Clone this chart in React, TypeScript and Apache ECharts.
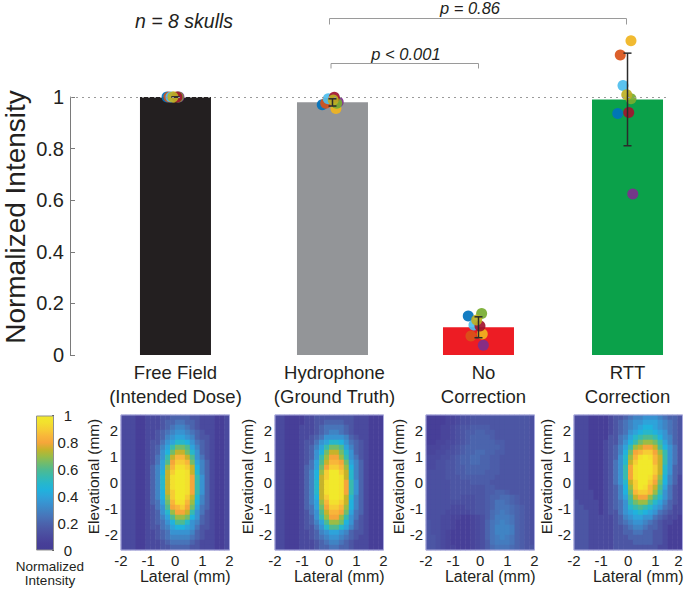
import React, { useEffect, useRef } from "react";
import * as echarts from "echarts";

const FONT = '"Liberation Sans", Arial, sans-serif';
const INK = "#231f20";

// ---- main bar chart data ----
const categories = ["Free Field\n(Intended Dose)", "Hydrophone\n(Ground Truth)", "No\nCorrection", "RTT\nCorrection"];
const barPositions = [1, 2.042, 3.011, 4];
const barValues = [1, 0.98, 0.108, 0.99];
const barColors = ["#231f20", "#939598", "#ed1c24", "#0ba14a"];
const errorLow = [1, 0.965, 0.067, 0.811];
const errorHigh = [1, 0.993, 0.148, 1.17];

const skullColors = ["#0072bd", "#d95319", "#f0b41f", "#7e2f8e", "#77ac30", "#4dbeee", "#a2142f", "#bdb024"];
// intensity of each skull in the four conditions
const skullIntensity = [
  [1, 0.97, 0.151, 0.936],
  [1, 0.976, 0.074, 1.163],
  [1, 0.955, 0.081, 1.218],
  [1, 0.981, 0.038, 0.624],
  [1, 0.976, 0.161, 0.993],
  [1, 0.993, 0.116, 1.045],
  [1, 0.999, 0.112, 0.94],
  [1, 0.988, 0.136, 1.009],
];
// horizontal jitter of each skull in the four conditions
const skullJitter = [
  [-0.056, -0.068, -0.068, -0.065],
  [-0.043, -0.045, -0.05, -0.048],
  [-0.01, 0.023, 0.025, 0.023],
  [0.023, 0.038, 0.032, 0.035],
  [0.017, 0.028, 0.021, 0.023],
  [-0.03, -0.028, -0.03, -0.03],
  [0.01, 0.012, 0.01, 0.008],
  [-0.017, 0.005, -0.012, -0.005],
];
const yTicks = ["0", "0.2", "0.4", "0.6", "0.8", "1"];

// ---- colour scale, 0 to 1 in steps of 0.05 ----
const colorScale = [
  "#443d95", "#473f98", "#4a4a9e", "#4c56a4", "#4b64ad", "#4874b9", "#4084c4", "#3893d1", "#2ea3da", "#20b2dd",
  "#27b7cb", "#38baae", "#4fba90", "#72bc6b", "#9bbc45", "#c6b32b", "#f5a63a", "#f8b63a", "#f6cd34", "#f3e02e", "#f1e92b",
];

// ---- beam maps: one character per cell, base-21 level, top row first ----
const mapFreeField = [
  "2221122233444433222112",
  "2221122234455443222112",
  "2221122234566543222112",
  "2221122345677654322112",
  "2221122346788764332112",
  "22211233578aa975432112",
  "2221123468bddc86432112",
  "2221123479dffda7432112",
  "222112357bfhhfc7532112",
  "222112358cgiihd8642112",
  "222112468ehjjif9642112",
  "222112469fikkjfa642112",
  "22211246afjkkjgb742112",
  "22211246afjkkjgb742112",
  "22211246afjkkjgb742112",
  "222112469fikkjgb742112",
  "222112469eikkifa642112",
  "222112458dhjjhe9642112",
  "222112357cghigd8542112",
  "222112347aeggfb7532112",
  "2221123468ceed97432112",
  "22211234579cca76432112",
  "2221123356899875332112",
  "2221122345777764322112",
  "2221122345666654322112",
  "2221122234555543222112",
  "2221122233444433222112",
];
const mapHydrophone = [
  "2211112233333333222111",
  "2211112233444433222111",
  "2211122234555543222111",
  "2211122234566543222111",
  "2211122345777764322111",
  "22111233578aa975432111",
  "2211123468bddc86432111",
  "2211123479dffda7432111",
  "221112347beggeb7532111",
  "221112358cfhhgd8642111",
  "221112458dgiihe9642111",
  "221112469eikkifa642111",
  "221112469fikkjfa642111",
  "22111246afjkkjgb742111",
  "22111246afjkkjgb742111",
  "22111246afjkkjgb742111",
  "221112469fikkjfa642111",
  "221112468ehjjif9642111",
  "221112458dgiihe9642111",
  "221112357cfhhgd8542111",
  "221112347beggeb7532111",
  "2211123468ceed97432111",
  "2211123357acca86432111",
  "2211122346788764332111",
  "2211122345677654322111",
  "2211122234566543222111",
  "2211122234455443222111",
];
const mapNoCorrection = [
  "2222334556666666666665",
  "2222334556666666666665",
  "2223345667777666666665",
  "2223345677887766666665",
  "2223345678888766666665",
  "2233445678888877666665",
  "3334456788888887666665",
  "3344556788998877666665",
  "4445567889988776666665",
  "4455667889988776666665",
  "4455667788888776666665",
  "5555667788887776666665",
  "5555666777777766666665",
  "5555566667777666666665",
  "5555566666667766666665",
  "5555566666667788766665",
  "5555566555667889987665",
  "55555555556678aa987665",
  "55555444556678aaa98765",
  "55554444456679aba98765",
  "55544332234579bbba8765",
  "6554432223458abcba8765",
  "6554432223458acccb8765",
  "6554322223458acccb8765",
  "6654322223458abcba8765",
  "6654322223457abbba8765",
  "66543322234579aaa98766",
];
const mapRtt = [
  "2221111233456677765443",
  "2221111234567788876543",
  "2221111234567899876543",
  "22211112345789aa987543",
  "222111133568abccb97643",
  "222111233579bdeedb8643",
  "22211123468befggfc9753",
  "22211123469dghiigeb753",
  "2221112347aehjkjhfb753",
  "2221112357afikkkhfb753",
  "2221112357bgjkkkifa743",
  "2221112357bgjkkkifa743",
  "2221112357bgjkkjhe9642",
  "2221112357afikkigd9642",
  "22211123469eikjhfc8532",
  "22221123469dhiiheb7532",
  "22221123468cfggeca7532",
  "32222123457bdeeca86432",
  "33222123457abcba875422",
  "3332212335789a98754322",
  "3332222234678877543221",
  "3332222234567765432211",
  "3332222233456654432111",
  "3332222233445544332111",
  "3332222233344444332111",
  "3332222233334444332111",
  "3332222233333333322111",
];
const beamMaps = [mapFreeField, mapHydrophone, mapNoCorrection, mapRtt];
// levels per 1.0 in each map (the uncorrected map is stored at finer steps)
const beamLevels = [20, 20, 40, 20];
const lateralTicksMin = -2;
const lateralTicksMax = 2;
const elevationalLimit = 2.58;
const colorbarTicks = [0, 0.2, 0.4, 0.6, 0.8, 1];

const heatLeft = [121, 275, 426, 574];

function toCells(rows: string[], levels: number) {
  const cells: number[][] = [];
  rows.forEach((row, r) => {
    row.split("").forEach((ch, c) => {
      cells.push([c, r, parseInt(ch, 21) / levels]);
    });
  });
  return cells;
}

function buildOption(): any {
  const grid: any[] = [
    { left: 70, top: 97, width: 600, height: 258, outerBoundsMode: "none" },
    { left: 36, top: 415.5, width: 18, height: 135, outerBoundsMode: "none" },
  ];
  const xAxis: any[] = [
    { type: "value", gridIndex: 0, min: 0.3, max: 4.282, show: false },
    { type: "category", gridIndex: 1, data: ["scale"], show: false },
  ];
  const yAxis: any[] = [
    {
      type: "value",
      gridIndex: 0,
      min: 0,
      max: 1,
      interval: 0.2,
      name: "Normalized Intensity",
      nameLocation: "middle",
      nameGap: 41,
      nameMoveOverlap: false,
      nameTextStyle: { fontSize: 28, color: INK, padding: [0, 0, 0, 18] },
      axisLine: { show: true, lineStyle: { color: "#7a7a7a", width: 1 } },
      axisTick: { show: true, inside: true, length: 5, lineStyle: { color: "#7a7a7a" } },
      axisLabel: {
        fontSize: 20,
        color: INK,
        margin: 6,
        formatter: (v: number) => yTicks[Math.round(v * 5)],
      },
      splitLine: { show: false },
    },
    {
      type: "value",
      gridIndex: 1,
      position: "right",
      min: colorbarTicks[0],
      max: colorbarTicks[5],
      interval: 0.2,
      axisLine: { show: false },
      axisTick: { show: true, inside: true, length: 2, lineStyle: { color: "#555" } },
      axisLabel: { fontSize: 15, color: INK, align: "center", margin: 14 },
      splitLine: { show: false },
    },
  ];

  const series: any[] = [];

  // bars with the dotted reference line and the category texts
  series.push({
    type: "bar",
    name: "Mean",
    xAxisIndex: 0,
    yAxisIndex: 0,
    barWidth: 71,
    clip: false,
    z: 2,
    data: barPositions.map((p, i) => ({
      value: [p, barValues[i]],
      itemStyle: { color: barColors[i] },
      label: {
        show: true,
        position: "insideBottom",
        distance: 0,
        offset: [[0, 2, 5, 0][i], 53],
        formatter: () => categories[i],
        fontSize: 18.5,
        lineHeight: 24,
        color: INK,
        fontFamily: FONT,
      },
    })),
    markLine: {
      silent: true,
      symbol: "none",
      label: { show: false },
      lineStyle: { type: [2, 4], color: "#9a9a9a", width: 1 },
      data: [{ yAxis: 1 }],
    },
  });

  // colour bar
  series.push({
    type: "bar",
    name: "Colour scale",
    xAxisIndex: 1,
    yAxisIndex: 1,
    barWidth: "100%",
    data: [1],
    itemStyle: {
      borderColor: "#8f8f8f",
      borderWidth: 1,
      color: new echarts.graphic.LinearGradient(
        0,
        1,
        0,
        0,
        colorScale.map((color, i) => ({ offset: i / (colorScale.length - 1), color }))
      ),
    },
  });

  // one scatter series per skull
  skullIntensity.forEach((vals, s) => {
    series.push({
      type: "scatter",
      name: `Skull ${s + 1}`,
      xAxisIndex: 0,
      yAxisIndex: 0,
      clip: false,
      symbolSize: 11,
      z: 3,
      itemStyle: { color: skullColors[s], opacity: 0.92 },
      data: vals.map((v, g) => [barPositions[g] + skullJitter[s][g], v]),
    });
  });

  // error bars
  series.push({
    type: "custom",
    name: "Std",
    xAxisIndex: 0,
    yAxisIndex: 0,
    clip: false,
    z: 4,
    data: barPositions.map((p, i) => [p, errorLow[i], errorHigh[i]]),
    encode: { x: 0, y: [1, 2] },
    renderItem: (_: any, api: any) => {
      const low = api.coord([api.value(0), api.value(1)]);
      const high = api.coord([api.value(0), api.value(2)]);
      const style = { stroke: "#2b2b2b", lineWidth: 1.5, fill: "none" };
      const cap = 4;
      return {
        type: "group",
        children: [
          { type: "line", shape: { x1: low[0], y1: low[1], x2: high[0], y2: high[1] }, style },
          { type: "line", shape: { x1: low[0] - cap, y1: low[1], x2: low[0] + cap, y2: low[1] }, style },
          { type: "line", shape: { x1: high[0] - cap, y1: high[1], x2: high[0] + cap, y2: high[1] }, style },
        ],
      };
    },
  });

  // beam maps
  const heatSeriesIdx: number[] = [];
  beamMaps.forEach((rows, m) => {
    const g = grid.length;
    grid.push({
      left: heatLeft[m],
      top: 415,
      width: 108.5,
      height: 135,
      show: true,
      z: 5,
      backgroundColor: "transparent",
      borderColor: "#a9aade",
      borderWidth: 1,
      outerBoundsMode: "none",
    });
    const catX = xAxis.length;
    xAxis.push({
      type: "category",
      gridIndex: g,
      position: "top",
      show: false,
      data: rows[0].split("").map((_, i) => i),
    });
    xAxis.push({
      type: "value",
      gridIndex: g,
      position: "bottom",
      min: lateralTicksMin,
      max: lateralTicksMax,
      interval: 1,
      name: "Lateral (mm)",
      nameLocation: "middle",
      nameGap: 16,
      nameTextStyle: { fontSize: 16, color: INK, padding: [0, 0, 0, 20] },
      axisLine: { show: false },
      axisTick: { show: false },
      splitLine: { show: false },
      axisLabel: {
        fontSize: 15,
        color: INK,
        margin: 3,
        showMinLabel: true,
        showMaxLabel: true,
        hideOverlap: false,
        alignMaxLabel: m === 3 ? "right" : undefined,
      },
    });
    const catY = yAxis.length;
    yAxis.push({
      type: "category",
      gridIndex: g,
      position: "right",
      show: false,
      inverse: true,
      data: rows.map((_, i) => i),
    });
    yAxis.push({
      type: "value",
      gridIndex: g,
      position: "left",
      min: -elevationalLimit,
      max: elevationalLimit,
      splitNumber: 5,
      minInterval: 1,
      name: "Elevational (mm)",
      nameLocation: "middle",
      nameGap: 13,
      nameTextStyle: { fontSize: 15.4, color: INK, padding: [0, 0, 0, 12] },
      axisLine: { show: false },
      axisTick: { show: false },
      splitLine: { show: false },
      axisLabel: {
        fontSize: 15,
        color: INK,
        margin: 3,
        formatter: (v: number) => (Number.isInteger(v) ? String(v) : ""),
      },
    });
    heatSeriesIdx.push(series.length);
    series.push({
      type: "heatmap",
      name: `Beam ${m + 1}`,
      xAxisIndex: catX,
      yAxisIndex: catY,
      progressive: 0,
      emphasis: { disabled: true },
      data: toCells(rows, beamLevels[m]),
    });
  });

  const annotationText = (text: string, x: number, y: number, fontSize: number, align = "center") => ({
    type: "text",
    x,
    y,
    style: {
      text,
      x: 0,
      y: 0,
      align,
      verticalAlign: "middle",
      fontFamily: FONT,
      fontStyle: "italic",
      fontSize,
      fill: INK,
    },
  });
  const bracket = (points: number[][]) => ({
    type: "polyline",
    shape: { points },
    style: { stroke: "#9a9a9a", lineWidth: 1, fill: "none" },
  });

  return {
    animation: false,
    backgroundColor: "#ffffff",
    textStyle: { fontFamily: FONT },
    grid,
    xAxis,
    yAxis,
    series,
    visualMap: {
      type: "continuous",
      show: false,
      min: 0,
      max: 1,
      seriesIndex: heatSeriesIdx,
      inRange: { color: colorScale },
    },
    graphic: [
      annotationText("n = 8 skulls", 135, 21, 19.5, "left"),
      annotationText("p = 0.86", 470, 8, 16.5),
      annotationText("p < 0.001", 406, 54, 16.5),
      bracket([[329.5, 24.5], [329.5, 18.5], [626.5, 18.5], [626.5, 24.5]]),
      bracket([[331, 68.5], [331, 63.5], [478.5, 63.5], [478.5, 68.5]]),
      {
        type: "text",
        x: 50,
        y: 573,
        style: {
          text: "Normalized\nIntensity",
          align: "center",
          verticalAlign: "middle",
          fontFamily: FONT,
          fontSize: 13.5,
          lineHeight: 14,
          fill: INK,
        },
      },
    ],
  };
}

export default function App() {
  const ref = useRef<HTMLDivElement>(null);
  useEffect(() => {
    const chart = echarts.init(ref.current!, undefined, { renderer: "svg" });
    chart.setOption(buildOption());
    return () => chart.dispose();
  }, []);
  return <div ref={ref} style={{ position: "absolute", left: 0, top: 0, width: 685, height: 591 }} />;
}
